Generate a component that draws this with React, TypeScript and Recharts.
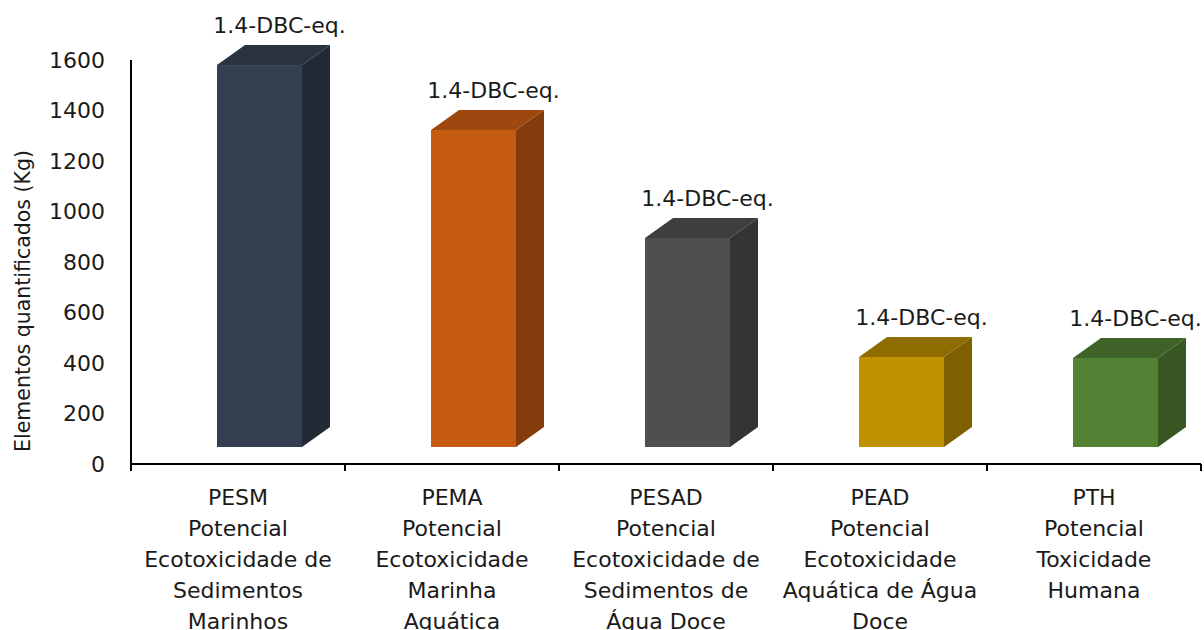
import { BarChart, Bar, XAxis, YAxis } from 'recharts';

const codes = ['PESM', 'PEMA', 'PESAD', 'PEAD', 'PTH'];
const descriptions = [
  ['Potencial', 'Ecotoxicidade de', 'Sedimentos', 'Marinhos'],
  ['Potencial', 'Ecotoxicidade', 'Marinha', 'Aquática'],
  ['Potencial', 'Ecotoxicidade de', 'Sedimentos de', 'Água Doce'],
  ['Potencial', 'Ecotoxicidade', 'Aquática de Água', 'Doce'],
  ['Potencial', 'Toxicidade', 'Humana'],
];
const values = [1580, 1323, 895, 424, 420];
const unitLabel = '1.4-DBC-eq.';
const yTicks = [0, 200, 400, 600, 800, 1000, 1200, 1400, 1600];
const yTitle = 'Elementos quantificados (Kg)';

const frontColors = ['#333f50', '#c55a11', '#4f4f4f', '#bf9000', '#548235'];
const sideColors = ['#222a35', '#843c0c', '#343434', '#7f6000', '#385723'];
const topColors = ['#29323f', '#9d480e', '#3e3e3e', '#8f6c00', '#3f6228'];

const data = codes.map((code, i) => ({ code, value: values[i] }));

const W = 1204;
const H = 630;
const Y_AXIS_W = 131;
const RIGHT = 3;
const BAND = (W - Y_AXIS_W - RIGHT) / codes.length;
const FONT = '"DejaVu Sans", sans-serif';
const TEXT = '#1a1a1a';

// faux 3d: depth offsets, lifted base, and front face shift
const DX = 28;
const DY = 20;
const LIFT = 17;
const SHIFT = 21;

function Bar3D(props: any) {
  const { x, y, width, height, index } = props;
  const left = x + SHIFT;
  const right = left + width;
  const top = y;
  const bottom = y + height - LIFT;
  const side = `${right},${top} ${right + DX},${top - DY} ${right + DX},${bottom - DY} ${right},${bottom}`;
  const lid = `${left},${top} ${left + DX},${top - DY} ${right + DX},${top - DY} ${right},${top}`;
  return (
    <g>
      <polygon points={side} fill={sideColors[index]} />
      <polygon points={lid} fill={topColors[index]} />
      <rect x={left} y={top} width={width} height={bottom - top} fill={frontColors[index]} />
      <text x={left + width / 2 + 20} y={top - 32} textAnchor="middle" fontFamily={FONT} fontSize={22} fill={TEXT}>
        {unitLabel}
      </text>
    </g>
  );
}

function CategoryTick(props: any) {
  const { x, y, payload } = props;
  const i = codes.indexOf(payload.value);
  const lines = [payload.value, ...descriptions[i]];
  return (
    <g>
      <line x1={x - BAND / 2} x2={x - BAND / 2} y1={y} y2={y + 7} stroke="#000" strokeWidth={2} />
      {i === codes.length - 1 && (
        <line x1={x + BAND / 2} x2={x + BAND / 2} y1={y} y2={y + 7} stroke="#000" strokeWidth={2} />
      )}
      <text textAnchor="middle" fontFamily={FONT} fontSize={22} fill={TEXT}>
        {lines.map((t, k) => (
          <tspan key={k} x={x} y={y + 41 + k * 31}>{t}</tspan>
        ))}
      </text>
    </g>
  );
}

export default function App() {
  return (
    <div style={{ position: 'absolute', left: 0, top: 0, background: '#fff' }}>
      <BarChart width={W} height={H} data={data} margin={{ top: 60, right: RIGHT, bottom: 0, left: 0 }}>
        <XAxis
          dataKey="code"
          interval={0}
          height={166}
          tickLine={false}
          tickSize={0}
          tickMargin={0}
          axisLine={{ stroke: '#000', strokeWidth: 2 }}
          tick={<CategoryTick />}
        />
        <YAxis
          width={Y_AXIS_W}
          domain={[0, 1600]}
          ticks={yTicks}
          interval={0}
          tickLine={false}
          tickSize={6}
          tickMargin={20}
          axisLine={{ stroke: '#000', strokeWidth: 2 }}
          tick={{ fill: TEXT, fontSize: 22, fontFamily: FONT }}
          label={{
            content: () => (
              <text
                x={23}
                y={301}
                transform="rotate(-90, 23, 301)"
                textAnchor="middle"
                dominantBaseline="central"
                fontFamily={FONT}
                fontSize={20.5}
                fill={TEXT}
              >
                {yTitle}
              </text>
            ),
          }}
        />
        <Bar dataKey="value" barSize={85} shape={<Bar3D />} isAnimationActive={false} />
      </BarChart>
    </div>
  );
}
